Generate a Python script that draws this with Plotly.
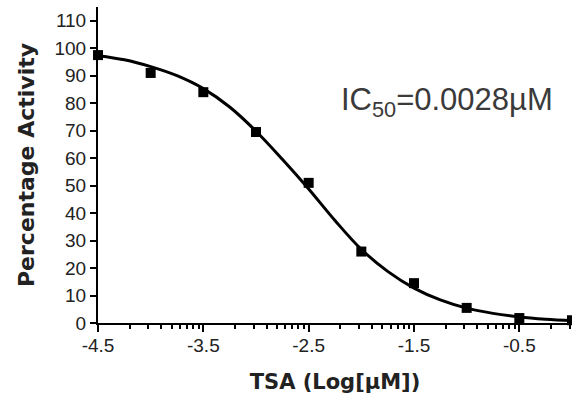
import numpy as np
import plotly.graph_objects as go

# Measured data points (log concentration, % activity)
log_conc = [-4.5, -4.0, -3.5, -3.0, -2.5, -2.0, -1.5, -1.0, -0.5, 0.0]
activity = [97.5, 91, 84, 69.5, 51, 26, 14.5, 5.5, 1.8, 1.0]

# Fitted curve
curve_x = [-4.5, -4.25, -4.0, -3.75, -3.5, -3.25, -3.0, -2.75, -2.5, -2.25,
           -2.0, -1.75, -1.5, -1.25, -1.0, -0.75, -0.5, -0.25, 0.0]
curve_y = [97.3, 95.8, 93.3, 90.0, 85.3, 78.6, 69.8, 59.6, 48.8, 37.3,
           26.8, 18.8, 12.7, 8.4, 5.4, 3.5, 2.2, 1.4, 0.9]

x_tick_vals = [-4.5, -3.5, -2.5, -1.5, -0.5]
x_tick_text = ["-4.5", "-3.5", "-2.5", "-1.5", "-0.5"]
y_tick_vals = [0, 10, 20, 30, 40, 50, 60, 70, 80, 90, 100, 110]

minor_vals = []
for start in [-4.5, -3.5, -2.5, -1.5, -0.5]:
    for k in range(2, 10):
        v = start + np.log10(k)
        if v <= 0.0:
            minor_vals.append(float(v))

TICK_FONT = "Liberation Sans, Arial, sans-serif"
TITLE_FONT = "DejaVu Sans, Arial, sans-serif"

fig = go.Figure()
fig.add_trace(go.Scatter(x=curve_x, y=curve_y, mode="lines",
                         line=dict(color="black", width=3, shape="spline"),
                         hoverinfo="skip", cliponaxis=False))
fig.add_trace(go.Scatter(x=log_conc, y=activity, mode="markers",
                         marker=dict(symbol="square", size=10, color="black"),
                         cliponaxis=False))

fig.add_annotation(x=0.965, y=0.70, xref="paper", yref="paper",
                   text="IC<sub>50</sub>=0.0028µM", showarrow=False,
                   xanchor="right", yanchor="middle",
                   font=dict(family=TICK_FONT, size=31, color="#3a3a3a"))

fig.update_layout(
    width=572, height=400,
    margin=dict(l=98, r=0, t=7, b=77, autoexpand=False),
    paper_bgcolor="white", plot_bgcolor="white",
    showlegend=False,
    font=dict(family=TICK_FONT, color="black"),
)
fig.update_xaxes(
    range=[-4.5, 0.0], showgrid=False, zeroline=False, automargin=False,
    showline=True, linecolor="black", linewidth=2,
    ticks="outside", ticklen=7, tickwidth=2, tickcolor="black",
    tickvals=x_tick_vals, ticktext=x_tick_text,
    tickfont=dict(size=19, color="#222222", family=TICK_FONT),
    ticklabelstandoff=-3,
    minor=dict(tickvals=minor_vals, ticks="outside", ticklen=4, tickwidth=1.5, tickcolor="black"),
    title=dict(text="<b>TSA (Log[µM])</b>", font=dict(size=21, color="#222222", family=TITLE_FONT), standoff=20),
)
fig.update_yaxes(
    range=[0, 115], showgrid=False, zeroline=False, automargin=False,
    showline=True, linecolor="black", linewidth=2,
    ticks="outside", ticklen=6, tickwidth=2, tickcolor="black",
    tickvals=y_tick_vals,
    tickfont=dict(size=19, color="#222222", family=TICK_FONT),
    title=dict(text="<b>Percentage Activity</b>", font=dict(size=22, color="#222222", family=TITLE_FONT), standoff=14),
)

fig.write_html("out.html", config={"displayModeBar": False},
               post_script="document.body.style.margin='0';document.body.style.overflow='hidden';")
